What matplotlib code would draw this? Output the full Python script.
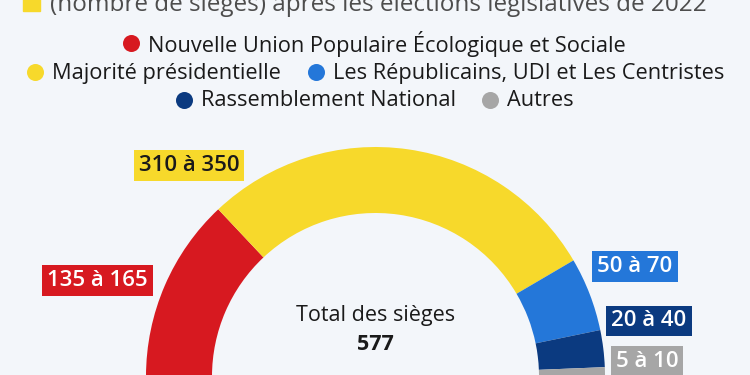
import matplotlib
matplotlib.use("Agg")
import matplotlib.pyplot as plt

# Seat projections (ranges shown as labels, arc drawn with an estimate per bloc)
parties = ['Nouvelle Union Populaire Écologique et Sociale', 'Majorité présidentielle',
           'Les Républicains, UDI et Les Centristes', 'Rassemblement National', 'Autres']
seats = [150, 330, 60, 30, 7.5]
ranges = ['135 à 165', '310 à 350', '50 à 70', '20 à 40', '5 à 10']
colors = ['#d71920', '#f7d92b', '#2477d9', '#0b3a80', '#a6a6a6']
label_colors = ['white', '#1a1a1a', 'white', 'white', 'white']
total_seats = 577

title = '(nombre de sièges) après les élections législatives de 2022'

plt.rcParams['font.family'] = ['Open Sans', 'DejaVu Sans']
BG = '#f3f6fa'

fig = plt.figure(figsize=(7.5, 3.75), dpi=100, facecolor=BG)
ax = fig.add_axes([0, 0, 1, 1])
ax.set_facecolor(BG)

H = 375  # work in pixel coords, y measured from the top


def py(y):
    return H - y


# Half donut: the last, invisible wedge fills the lower half
wedges, _ = ax.pie(seats + [sum(seats)], colors=colors + ['none'],
                   startangle=180, counterclock=False,
                   center=(375.5, py(376.5)), radius=229.5,
                   wedgeprops=dict(width=66, linewidth=0))

ax.set_xlim(0, 750)
ax.set_ylim(0, H)
ax.set_aspect('equal')
ax.axis('off')

# Title (top line cut in the original)
ax.add_patch(plt.Rectangle((23, py(11)), 17, 14, color='#f7d92b', clip_on=False))
ax.text(50, py(11), title, fontsize=17.5, color='#4d4d4d', ha='left', va='baseline')

# Legend rows
legend_rows = [
    [(0, 131, 43)],
    [(1, 35, 72), (2, 316, 72)],
    [(3, 184, 100), (4, 490, 100)],
]
for row in legend_rows:
    for i, x, y in row:
        ax.scatter([x], [py(y)], s=150, color=colors[i], linewidths=0)
        ax.text(x + 17, py(y) - 1, parties[i], fontsize=15.7, color='#1a1a1a',
                ha='left', va='center')

# Range labels next to the arc
label_pos = [(97.5, 280.5), (189, 165.5), (635, 266.5), (649, 321), (647, 361.5)]
for i, (x, y) in enumerate(label_pos):
    ax.text(x, py(y), ranges[i], fontsize=16, fontweight='semibold',
            color=label_colors[i], ha='center', va='center',
            bbox=dict(boxstyle='square,pad=0.22', fc=colors[i], ec='none'))

# Centre text
ax.text(375.5, py(315), 'Total des sièges', fontsize=15.5, color='#1a1a1a',
        ha='center', va='center')
ax.text(375.5, py(345), str(total_seats), fontsize=15.5, fontweight='bold',
        color='#1a1a1a', ha='center', va='center')

fig.savefig('out.png', dpi=100, facecolor=BG)
